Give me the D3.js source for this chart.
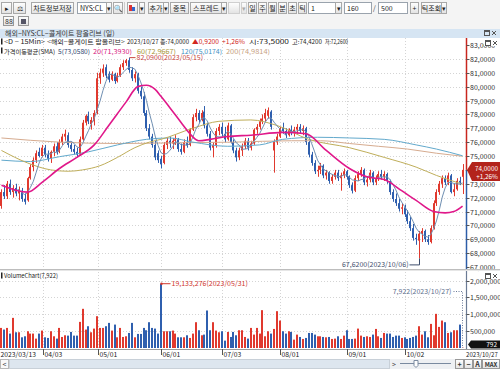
<!DOCTYPE html>
<html><head><meta charset="utf-8">
<script src="https://cdn.jsdelivr.net/npm/d3@7"></script>
<style>
html,body{margin:0;padding:0;background:#fff;overflow:hidden}
svg{display:block;font-family:"Noto Sans CJK KR","Noto Sans",sans-serif}
</style></head><body>
<svg id="c" width="500" height="369"></svg>
<script>
// ---------- DATA ----------
const opens = [71.4,72.4,72.1,73.0,72.4,72.7,72.3,72.5,71.9,71.8,
73.4,74.2,74.7,75.3,75.0,75.6,75.1,74.8,75.3,75.7,
75.3,76.0,76.4,76.5,75.8,75.5,75.3,75.1,76.2,77.4,
77.9,77.3,77.5,78.1,80.6,81.0,81.4,80.9,80.5,80.9,
80.4,80.8,81.4,81.7,81.9,81.2,80.6,80.9,79.7,79.3,
78.1,77.0,76.4,75.8,75.2,74.8,74.5,75.8,76.1,75.9,
76.1,76.2,75.5,75.3,76.0,75.8,76.9,77.8,78.1,77.6,
78.2,77.2,76.6,75.6,75.8,76.8,77.1,76.6,76.2,77.2,
76.0,75.4,74.9,75.4,75.7,76.1,75.6,75.9,76.9,77.1,
77.5,77.7,77.9,78.2,75.4,76.0,76.4,77.0,76.8,76.5,
76.9,76.7,76.9,77.1,76.8,77.0,76.0,75.1,74.5,73.9,
74.0,74.3,73.6,73.8,73.2,73.5,73.8,73.4,73.6,73.9,
73.5,72.9,72.5,73.4,73.7,74.0,73.1,73.3,73.8,73.1,
73.4,73.7,73.5,73.7,73.2,72.4,71.9,71.6,71.2,71.3,
70.8,70.3,69.8,69.1,68.9,69.4,69.6,69.0,68.8,69.8,
71.6,72.4,73.0,73.4,73.1,73.6,72.4,72.6,73.21,73.5];
const highs = [72.6,72.9,73.2,73.3,72.9,73.0,72.8,72.7,72.3,73.5,
74.4,74.9,75.4,75.6,75.8,75.8,75.4,75.4,75.9,76.0,
76.2,76.6,76.9,76.7,76.0,75.8,75.6,76.4,77.6,78.0,
78.2,77.8,78.3,81.0,81.3,81.6,81.6,81.1,81.1,81.0,
81.0,81.6,81.9,82.0,82.09,81.4,81.1,81.0,80.0,79.6,
78.3,77.3,76.6,76.1,75.4,75.0,76.0,76.3,76.4,76.3,
76.5,76.3,75.9,76.2,76.4,77.0,78.0,78.4,78.3,78.3,
78.6,77.4,76.8,76.0,77.0,77.3,77.4,77.1,77.4,77.3,
76.2,75.6,75.6,75.9,76.3,76.3,76.1,77.0,77.3,77.7,
78.0,78.4,78.5,78.3,76.2,76.6,77.1,77.4,77.0,77.0,
77.2,77.1,77.3,77.3,77.2,77.1,76.1,75.3,74.7,74.3,
74.5,74.4,74.0,73.9,73.7,74.0,74.0,73.8,74.1,74.0,
73.6,73.1,73.6,73.9,74.2,74.1,73.5,74.0,73.9,73.6,
73.9,74.0,73.9,73.8,73.3,72.6,72.3,71.9,71.6,71.5,
71.1,70.6,70.1,69.4,69.6,69.8,69.7,69.3,70.0,71.8,
72.6,73.2,73.6,73.6,73.8,73.7,73.0,73.4,73.5,74.42];
const lows = [71.2,71.9,71.9,72.2,72.0,72.1,71.8,71.7,71.5,71.7,
73.3,73.9,74.5,74.9,74.9,74.9,74.6,74.5,75.0,75.1,
75.2,75.8,76.1,75.6,75.3,75.1,74.9,75.0,76.1,77.2,
77.3,76.9,77.2,78.0,80.2,80.7,80.6,80.3,80.4,80.2,
80.3,80.7,81.2,81.5,81.0,80.4,80.3,79.5,79.1,77.9,
76.8,76.2,75.6,74.7,74.5,74.1,74.4,75.5,75.6,75.5,
75.8,75.3,75.1,75.2,75.6,75.7,76.8,77.5,77.4,77.5,
77.0,76.4,75.4,74.9,75.6,76.5,76.4,76.0,76.1,75.9,
75.2,74.6,74.7,75.0,75.5,75.4,75.4,75.8,76.6,76.9,
77.3,77.5,77.7,76.9,73.8,75.8,76.3,76.6,76.3,76.4,
76.5,76.4,76.6,76.6,76.5,75.8,74.9,74.3,73.7,73.5,
73.7,73.4,73.3,73.0,73.0,73.3,73.2,72.5,73.4,73.3,
72.7,72.3,72.4,73.2,73.5,72.9,72.8,73.1,72.9,72.9,
73.2,73.3,73.2,73.0,72.2,71.7,71.4,71.0,70.8,70.6,
70.1,69.6,68.9,68.6,67.62,68.8,68.8,68.6,68.7,69.7,
71.4,72.2,72.7,72.9,72.9,72.3,72.1,72.5,72.9,72.26];
const closes = [72.4,72.1,73.0,72.4,72.7,72.3,72.5,71.9,71.7,73.4,
74.2,74.7,75.2,75.0,75.6,75.1,74.8,75.3,75.7,75.3,
76.0,76.4,76.6,75.8,75.5,75.3,75.1,76.2,77.4,77.9,
77.5,77.6,78.1,80.6,81.0,81.3,80.8,80.5,80.9,80.4,
80.8,81.4,81.7,81.9,81.2,80.6,80.9,79.7,79.3,78.1,
77.0,76.4,75.8,74.9,74.7,74.4,75.8,76.1,75.9,76.1,
76.2,75.5,75.3,76.0,75.8,76.9,77.8,78.1,77.6,78.1,
77.2,76.6,75.6,75.8,76.8,77.1,76.6,76.2,77.2,76.0,
75.4,74.9,75.4,75.7,76.1,75.6,75.9,76.9,77.1,77.5,
77.7,78.1,78.3,77.1,76.0,76.4,77.0,76.8,76.5,76.9,
76.7,76.9,77.1,76.8,77.0,76.0,75.1,74.5,73.9,74.0,
74.3,73.6,73.8,73.2,73.5,73.8,73.4,73.6,73.9,73.5,
72.9,72.5,73.4,73.7,74.0,73.1,73.3,73.8,73.1,73.4,
73.7,73.5,73.7,73.2,72.4,71.9,71.6,71.2,71.3,70.8,
70.3,69.8,69.1,69.0,69.4,69.6,69.0,68.8,69.8,71.6,
72.4,73.0,73.4,73.1,73.6,72.4,72.6,73.21,73.08,74.0];
// volume in thousands (axis units)
const volumes = [595,546,595,427,893,466,466,317,347,496,
427,427,278,427,516,317,298,496,347,278,
595,327,377,367,476,367,367,774,1161,546,
645,466,575,942,595,595,645,744,516,694,
317,595,327,347,446,744,317,417,417,595,
526,764,595,575,427,1905,496,496,496,516,
427,317,317,317,377,298,427,764,526,377,
397,1111,526,764,516,466,496,218,476,327,
476,377,526,526,327,278,595,397,595,427,
1121,347,496,427,565,1091,813,496,427,496,
476,248,397,327,268,298,446,446,397,347,
347,327,317,327,268,278,347,268,367,526,
268,268,278,575,367,327,347,327,397,565,
347,298,446,427,427,327,367,367,298,317,
268,298,327,367,645,397,496,317,714,377,
1012,625,813,764,446,466,526,526,694,8];
// moving averages (index, value)
const ma20Idx = [0,9,14,20,26,32,37,43,47,50,53,55,58,62,65,68,72,78,86,97,105,112,120,126,132,138,143,149,153,156,159];
const ma20Val = [72.9,72.4,73.1,74.1,74.9,75.8,77.2,78.9,80.0,80.1,79.8,79.3,78.5,77.4,76.6,76.1,76.2,76.4,76.5,76.7,76.6,75.4,74.1,73.5,73.3,72.5,71.8,71.0,70.9,71.0,71.393];
const ma60Idx = [0,9,17,23,28,34,40,46,51,55,66,75,86,95,106,120,132,143,150,159];
const ma60Val = [75.4,74.5,74.0,73.9,74.0,74.3,74.9,75.6,76.0,76.2,77.0,77.5,77.6,77.2,76.2,75.6,74.9,74.2,73.6,72.9667];
const ma120Idx = [0,10,20,30,40,50,58,66,78,89,97,109,120,132,143,150,159];
const ma120Val = [74.7,74.6,74.95,75.3,75.8,76.2,76.3,76.0,75.7,75.8,76.2,76.35,76.3,76.2,75.8,75.5,75.0174];
const ma200Idx = [0,20,40,60,80,100,110,120,130,140,150,159];
const ma200Val = [76.3,76.0,75.9,75.95,76.0,76.1,76.1,75.9,75.7,75.5,75.2,74.9814];
const dateTickIdx = [0,15,34,56,77,97,120,140];
const dateTickLabels = ["2023/03/13","04/03","05/01","06/01","07/03","08/01","09/01","10/02"];
const lastDate = "2023/10/27";
const priceTicks = [67,68,69,70,71,72,73,74,75,76,77,78,79,80,81,82,83];
const volTicks = [500,1000,1500,2000];
const highIdx = 44, highDate = "2023/05/15";
const lowIdx = 144, lowDate = "2023/10/06";
const volPeakIdx = 55, volPeakText = "19,133,276", volPeakDate = "2023/05/31";
const lastVolText = "7,922", lastVolBox = "792";

// ---------- SETUP ----------
const W = 500, H = 369;
const svg = d3.select("#c");
const RED = "#e0392e", BLUE = "#2f5fae";
const fmt4 = v => v.toFixed(4).replace('.', ',');
const n = closes.length;
const PL = 0, PR = 464, AX = 466.5;
const x = d3.scaleBand().domain(d3.range(n)).range([PL, PR]);
const step = x.step();
const cx = i => x(i) + step / 2;
const y = d3.scaleLinear().domain([67, 83]).range([267, 45]);
const yv = d3.scaleLinear().domain([0, 2000]).range([348, 280.5]);

const defs = svg.append("defs");
const g1 = defs.append("linearGradient").attr("id","bg").attr("x1",0).attr("y1",0).attr("x2",0).attr("y2",1);
g1.append("stop").attr("offset","0").attr("stop-color","#ffffff");
g1.append("stop").attr("offset","1").attr("stop-color","#e2e2e2");
defs.append("clipPath").attr("id","pclip").append("rect").attr("x",0).attr("y",38).attr("width",AX).attr("height",231);

// ---------- TOOLBAR ----------
const tb = svg.append("g").attr("font-size", 7);
tb.append("rect").attr("width", W).attr("height", 29).attr("fill", "#f4f4f4");
function button(xp, w, label, grey) {
  tb.append("rect").attr("x", xp + 0.5).attr("y", 2.5).attr("width", w).attr("height", 11)
    .attr("fill", "url(#bg)").attr("stroke", grey ? "#cfcfcf" : "#a8a8a8");
  if (label) tb.append("text").attr("x", xp + w / 2 + 0.5).attr("y", 10.8).attr("text-anchor", "middle")
    .attr("fill", grey ? "#aaa" : "#222").text(label);
}
function input(xp, w, label) {
  tb.append("rect").attr("x", xp + 0.5).attr("y", 2.5).attr("width", w).attr("height", 11)
    .attr("fill", "#fff").attr("stroke", "#9aa3ad");
  tb.append("text").attr("x", xp + 3).attr("y", 10.8).attr("fill", "#222").text(label);
}
button(1, 10, "▸");
button(13, 12, "⚖");
button(31, 42, "차트정보저장");
input(77, 30, "NYS:CL");
button(106, 5, "▾");
button(113, 9, "🔍");
tb.append("line").attr("x1",124.5).attr("x2",124.5).attr("y1",2).attr("y2",14).attr("stroke","#ccc");
button(127, 10, "");
tb.append("rect").attr("x",129).attr("y",5).attr("width",3).attr("height",6).attr("fill","#d33");
tb.append("rect").attr("x",132).attr("y",7).attr("width",3).attr("height",4).attr("fill","#36c");
button(139, 5, "▾");
button(148, 15, "추가");
button(163, 5, "▾");
button(170, 18, "종목");
button(190, 31, "스프레드");
button(221, 5, "▾");
button(228, 11, "", true);
button(241, 5, "▾", true);
["일","주","월","분","초","틱"].forEach((t, k) => button(248 + k * 10, 8, t));
input(308, 27, "1");
button(335, 6, "▾");
input(344, 27, "160");
tb.append("text").attr("x", 373).attr("y", 10.8).attr("fill", "#444").text("/");
input(378, 29, "500");
button(410, 8, "+");
button(421, 20, "틱조회");
button(441, 5, "▾");
tb.append("rect").attr("x",3.5).attr("y",16.5).attr("width",10).attr("height",9).attr("fill","url(#bg)").attr("stroke","#999");
tb.append("rect").attr("x",18.5).attr("y",16.5).attr("width",10).attr("height",9).attr("fill","url(#bg)").attr("stroke","#999");
tb.append("text").attr("x",5).attr("y",24).attr("font-size",7).attr("fill","#333").text("88");
tb.append("rect").attr("x",21).attr("y",19).attr("width",5).attr("height",5).attr("fill","#556");
// title bar
svg.append("rect").attr("x", 0).attr("y", 29).attr("width", W).attr("height", 9).attr("fill", "#d6e5f3");
svg.append("text").attr("x", 5).attr("y", 36.3).attr("font-size", 7).attr("fill", "#333")
  .text("해외−NYS:CL−콜게이트 팜올리브 (일)");
function boxX(xp, yp) {
  const g = svg.append("g");
  g.append("rect").attr("x", xp + 0.5).attr("y", yp + 0.5).attr("width", 5).attr("height", 5).attr("fill", "none").attr("stroke", "#555");
  g.append("line").attr("x1", xp + 0.5).attr("x2", xp + 5.5).attr("y1", yp + 1.5).attr("y2", yp + 1.5).attr("stroke", "#555");
  g.append("path").attr("d", `M${xp+8},${yp+1}L${xp+12},${yp+5}M${xp+12},${yp+1}L${xp+8},${yp+5}`).attr("stroke", "#555");
}
boxX(484, 30);

// ---------- GRID ----------
const grid = svg.append("g").attr("stroke", "#d4d4d4").attr("stroke-dasharray", "1,2");
priceTicks.filter(p => p > 67 && p < 83).forEach(p => {
  grid.append("line").attr("x1", 0).attr("x2", AX).attr("y1", Math.round(y(p)) + 0.5).attr("y2", Math.round(y(p)) + 0.5);
});
volTicks.forEach(v => {
  grid.append("line").attr("x1", 0).attr("x2", AX).attr("y1", Math.round(yv(v)) + 0.5).attr("y2", Math.round(yv(v)) + 0.5);
});
dateTickIdx.forEach(i => {
  const xx = Math.round(x(i) - 1) + 0.5;
  grid.append("line").attr("x1", xx).attr("x2", xx).attr("y1", 38).attr("y2", 269);
  grid.append("line").attr("x1", xx).attr("x2", xx).attr("y1", 272).attr("y2", 348);
});

// ---------- CANDLES ----------
const pc = svg.append("g").attr("clip-path", "url(#pclip)");
const idx = d3.range(n);
const col = i => closes[i] >= opens[i] ? RED : BLUE;
const wx = i => Math.round(cx(i)) + 0.5;
pc.selectAll("line.w").data(idx).join("line").attr("class", "w")
  .attr("x1", wx).attr("x2", wx).attr("y1", i => y(highs[i])).attr("y2", i => y(lows[i]))
  .attr("stroke", col).attr("stroke-width", 1);
pc.selectAll("rect.b").data(idx).join("rect").attr("class", "b")
  .attr("x", i => wx(i) - 1.5).attr("width", 2)
  .attr("y", i => y(Math.max(opens[i], closes[i])))
  .attr("height", i => Math.max(1, Math.abs(y(opens[i]) - y(closes[i]))))
  .attr("fill", col);

// ---------- MOVING AVERAGES ----------
const ma5 = idx.filter(i => i >= 4).map(i => [i, d3.mean(closes.slice(i - 4, i + 1))]);
const lineGen = d3.line().x(d => cx(d[0])).y(d => y(d[1]));
const smooth = d3.line().x(d => cx(d[0])).y(d => y(d[1])).curve(d3.curveMonotoneX);
const pairs = (a, b) => a.map((v, k) => [v, b[k]]);
pc.append("path").attr("d", smooth(pairs(ma200Idx, ma200Val))).attr("fill", "none").attr("stroke", "#d6ab8f").attr("stroke-width", 1);
pc.append("path").attr("d", smooth(pairs(ma120Idx, ma120Val))).attr("fill", "none").attr("stroke", "#62a9cc").attr("stroke-width", 1);
pc.append("path").attr("d", smooth(pairs(ma60Idx, ma60Val))).attr("fill", "none").attr("stroke", "#bfae5a").attr("stroke-width", 1);
pc.append("path").attr("d", lineGen(ma5)).attr("fill", "none").attr("stroke", "#6f8fb2").attr("stroke-width", 1);
pc.append("path").attr("d", smooth(pairs(ma20Idx, ma20Val))).attr("fill", "none").attr("stroke", "#e0188a").attr("stroke-width", 1.6);

// high / low annotations
const hx = wx(highIdx), hy = y(highs[highIdx]);
svg.append("path").attr("d", `M${hx},${hy}L${hx + 6},${hy}`).attr("stroke", "#c9463d");
svg.append("text").attr("x", hx + 7).attr("y", hy + 2.5).attr("font-size", 7).attr("fill", "#c9463d")
  .text(`${fmt4(highs[highIdx])}(${highDate})`);
const lx = wx(lowIdx), ly = y(lows[lowIdx]);
svg.append("path").attr("d", `M${lx},${ly}L${lx},${ly + 6.5}L${lx - 10},${ly + 6.5}`).attr("fill", "none").attr("stroke", "#3d4d6b");
svg.append("text").attr("x", lx - 11).attr("y", ly + 9).attr("text-anchor", "end").attr("font-size", 7).attr("fill", "#3d4d6b")
  .text(`${fmt4(lows[lowIdx])}(${lowDate})`);

// ---------- LEGEND ----------
const last = n - 1;
const chg = closes[last] - closes[last - 1];
const pct = chg / closes[last - 1] * 100;
const lg = svg.append("g").attr("font-size", 6.2);
function lt(xp, yp, w, txt, fill) {
  lg.append("text").attr("x", xp).attr("y", yp).attr("fill", fill || "#222")
    .attr("textLength", w).attr("lengthAdjust", "spacingAndGlyphs").text(txt);
}
lg.append("rect").attr("x", 1).attr("y", 38.5).attr("width", 1.5).attr("height", 6).attr("fill", "#222");
lt(4, 44.3, 41, "<D − 15Min>");
lt(47, 44.3, 78, "<해외−콜게이트 팜올리브>");
lt(127, 44.3, 62, `2023/10/27 종:${fmt4(closes[last])}`);
lt(192, 44.3, 27, `▲${fmt4(chg)}`, "#d2261e");
lt(222, 44.3, 23, `+${pct.toFixed(2).replace('.', ',')}%`, "#d2261e");
lt(249, 44.3, 40, `시:${fmt4(opens[last])}`);
lt(292, 44.3, 30, `고:${fmt4(highs[last])}`);
lt(325, 44.3, 23, `저:${fmt4(lows[last])}`);
lg.append("rect").attr("x", 1).attr("y", 47.5).attr("width", 1.5).attr("height", 6).attr("fill", "#222");
lt(4, 53.5, 51, "가격이동평균(SMA)");
lt(58, 53.5, 32, `5(${fmt4(ma5[ma5.length - 1][1])})`, "#2b3f6b");
lt(93, 53.5, 39, `20(${fmt4(ma20Val[ma20Val.length - 1])})`, "#d8187f");
lt(137, 53.5, 39, `60(${fmt4(ma60Val[ma60Val.length - 1])})`, "#a89534");
lt(181, 53.5, 41, `120(${fmt4(ma120Val[ma120Val.length - 1])})`, "#3e8fbf");
lt(226, 53.5, 44, `200(${fmt4(ma200Val[ma200Val.length - 1])})`, "#c79f7f");

// ---------- PRICE AXIS ----------
const axg = svg.append("g");
const yLast = y(closes[last]);
axg.append("line").attr("x1", AX).attr("x2", AX).attr("y1", 38).attr("y2", yLast).attr("stroke", "#c8261e").attr("stroke-width", 1.5);
axg.append("line").attr("x1", AX).attr("x2", AX).attr("y1", yLast).attr("y2", 269).attr("stroke", "#2c5da8").attr("stroke-width", 1.5);
priceTicks.forEach(p => {
  const yy = Math.round(y(p)) + 0.5;
  axg.append("line").attr("x1", AX).attr("x2", AX + 3).attr("y1", yy).attr("y2", yy).attr("stroke", "#555");
  if (Math.abs(y(p) - yLast) > 8)
    axg.append("text").attr("x", 470).attr("y", yy + 2.5).attr("font-size", 7).attr("fill", "#333").text(fmt4(p));
});
axg.append("path").attr("d", `M467,${yLast}L472,${yLast - 8}L500,${yLast - 8}L500,${yLast + 11}L472,${yLast + 11}Z`).attr("fill", "#b3241c");
axg.append("text").attr("x", 498).attr("y", yLast + 1).attr("text-anchor", "end").attr("font-size", 6.4).attr("fill", "#fff").text(fmt4(closes[last]));
axg.append("text").attr("x", 498).attr("y", yLast + 9.3).attr("text-anchor", "end").attr("font-size", 6.4).attr("fill", "#fff").text(`+${pct.toFixed(2).replace('.', ',')}%`);
svg.append("rect").attr("x", 484).attr("y", 39).attr("width", 16).attr("height", 7).attr("fill", "#fff");
boxX(485, 40);

// ---------- PANEL SEPARATOR ----------
svg.append("line").attr("x1", 0).attr("x2", W).attr("y1", 269.5).attr("y2", 269.5).attr("stroke", "#bdbdbd");
svg.append("line").attr("x1", 0).attr("x2", W).attr("y1", 270.5).attr("y2", 270.5).attr("stroke", "#e6e6e6");

// ---------- VOLUME ----------
const vg = svg.append("g");
vg.selectAll("rect.v").data(idx).join("rect").attr("class", "v")
  .attr("x", i => wx(i) - 1.5).attr("width", 2)
  .attr("y", i => yv(volumes[i])).attr("height", i => yv(0) - yv(volumes[i]))
  .attr("fill", col);
lg.append("rect").attr("x", 1).attr("y", 272.5).attr("width", 1.5).attr("height", 6).attr("fill", "#222");
lt(4, 278.3, 54, `VolumeChart(${lastVolText})`);
const px = wx(volPeakIdx), py = yv(volumes[volPeakIdx]);
vg.append("circle").attr("cx", px).attr("cy", py).attr("r", 1.2).attr("fill", "#d0362d");
vg.append("line").attr("x1", px).attr("x2", px + 9).attr("y1", py).attr("y2", py).attr("stroke", "#d0362d");
vg.append("text").attr("x", px + 10).attr("y", py + 2.5).attr("font-size", 7).attr("fill", "#d0362d")
  .text(`${volPeakText}(${volPeakDate})`);
const lvx = wx(last) - 1;
vg.append("path").attr("d", `M${lvx - 9},291.5L${lvx},291.5L${lvx},348`).attr("fill", "none")
  .attr("stroke", "#6a7a98").attr("stroke-dasharray", "1,1.5");
vg.append("text").attr("x", lvx - 11).attr("y", 294).attr("text-anchor", "end").attr("font-size", 7).attr("fill", "#5d6d8c")
  .text(`${lastVolText}(${lastDate})`);
// volume axis
axg.append("line").attr("x1", AX).attr("x2", AX).attr("y1", 271).attr("y2", 349).attr("stroke", "#6b7b95").attr("stroke-width", 1.2);
volTicks.forEach(v => {
  const yy = Math.round(yv(v)) + 0.5;
  axg.append("line").attr("x1", AX).attr("x2", AX + 3).attr("y1", yy).attr("y2", yy).attr("stroke", "#555");
  axg.append("text").attr("x", 470).attr("y", yy + 2.5).attr("font-size", 7).attr("fill", "#333").text(d3.format(",")(v * 1000));
});
axg.append("path").attr("d", "M468,344.5L471,340.5L500,340.5L500,348.5L471,348.5Z").attr("fill", "#111");
axg.append("text").attr("x", 497).attr("y", 347.2).attr("text-anchor", "end").attr("font-size", 6.5).attr("fill", "#fff").text(lastVolBox);
svg.append("rect").attr("x", 484).attr("y", 272).attr("width", 16).attr("height", 7).attr("fill", "#fff");
boxX(485, 273);

// ---------- X AXIS ----------
svg.append("line").attr("x1", 0).attr("x2", W).attr("y1", 349.5).attr("y2", 349.5).attr("stroke", "#9a9a9a");
dateTickIdx.forEach((i, k) => {
  const xx = Math.round(x(i) - 1) + 0.5;
  svg.append("line").attr("x1", xx).attr("x2", xx).attr("y1", 349).attr("y2", 355).attr("stroke", "#555");
  svg.append("text").attr("x", Math.max(0, xx + 1)).attr("y", 356.5).attr("font-size", 6.8).attr("fill", "#222").text(dateTickLabels[k]);
});
svg.append("text").attr("x", 466).attr("y", 356.5).attr("font-size", 6.1).attr("fill", "#222").text(lastDate);

// ---------- SCROLLBAR ----------
const sb = svg.append("g");
sb.append("rect").attr("x", 0).attr("y", 359).attr("width", W).attr("height", 10).attr("fill", "#eef0f3");
sb.append("rect").attr("x", 0.5).attr("y", 359.5).attr("width", 8).attr("height", 9).attr("fill", "#f8f8f8").attr("stroke", "#b7b7b7");
sb.append("text").attr("x", 2.5).attr("y", 366.5).attr("font-size", 7).attr("fill", "#444").text("<");
sb.append("rect").attr("x", 9.5).attr("y", 359.5).attr("width", 380).attr("height", 9).attr("fill", "#dde6ef").attr("stroke", "#c8d0d8");
sb.append("text").attr("x", 392).attr("y", 366.5).attr("font-size", 7).attr("fill", "#444").text(">");
sb.append("line").attr("x1", 400).attr("x2", 451).attr("y1", 363.5).attr("y2", 363.5).attr("stroke", "#7a8aa0");
sb.append("path").attr("d", "M414,360.5L414,365.5L416,367.5L418,365.5L418,360.5Z").attr("fill", "#fff").attr("stroke", "#7a8aa0");
[["+", 455], ["−", 464], ["A", 473]].forEach(([t, xp]) => {
  sb.append("rect").attr("x", xp + 0.5).attr("y", 359.5).attr("width", 8).attr("height", 9).attr("fill", "url(#bg)").attr("stroke", "#999");
  sb.append("text").attr("x", xp + 4.5).attr("y", 366.8).attr("text-anchor", "middle").attr("font-size", 7).attr("font-weight", "bold").attr("fill", "#333").text(t);
});
sb.append("rect").attr("x", 482.5).attr("y", 359.5).attr("width", 17).attr("height", 9).attr("fill", "url(#bg)").attr("stroke", "#999");
sb.append("text").attr("x", 491).attr("y", 366.8).attr("text-anchor", "middle").attr("font-size", 6).attr("font-weight", "bold").attr("fill", "#333").text("MAX");
</script>
</body></html>
